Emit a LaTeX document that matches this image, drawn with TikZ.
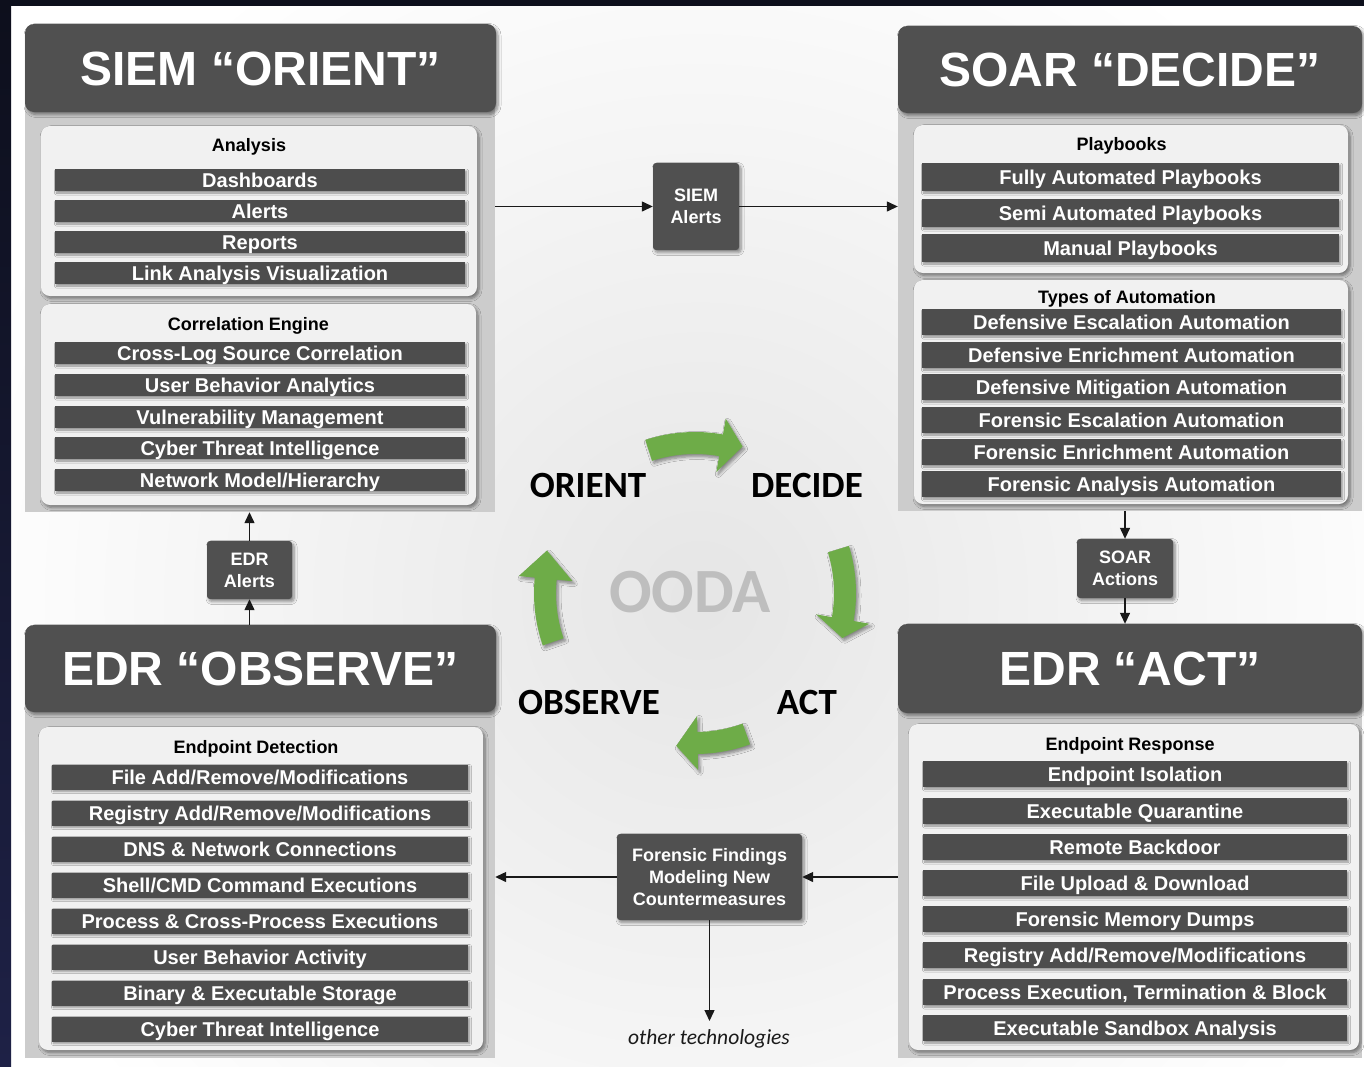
\documentclass[tikz,border=0pt]{standalone}
\usepackage{fontspec}
\setmainfont{Liberation Sans}
\newfontfamily\oodafont{Carlito}
\usetikzlibrary{arrows.meta,shadows.blur,calc}

\definecolor{navytop}{RGB}{13,15,28}
\definecolor{navybot}{RGB}{30,33,70}
\definecolor{hdrgray}{RGB}{80,80,80}
\definecolor{bargray}{RGB}{77,77,77}
\definecolor{panelgray}{RGB}{204,204,204}
\definecolor{boxgray}{RGB}{241,241,241}
\definecolor{oodagreen}{RGB}{110,172,72}
\definecolor{oodagray}{RGB}{190,190,190}
\definecolor{linegray}{RGB}{25,25,25}

\tikzset{
  softshadow/.style={blur shadow={shadow xshift=2pt,shadow yshift=-2.5pt,
      shadow blur radius=3pt,shadow blur steps=6,shadow opacity=45}},
  barshadow/.style={blur shadow={shadow xshift=1.5pt,shadow yshift=-2pt,
      shadow blur radius=2pt,shadow blur steps=5,shadow opacity=40}},
  hdr/.style={fill=hdrgray, rounded corners=9pt, text=white, inner sep=0pt,
      font={\fontsize{48}{48}\selectfont\bfseries}, text height=34.4pt,
      text depth=0pt, softshadow},
  panel/.style={fill=panelgray, inner sep=0pt},
  grp/.style={fill=boxgray, rounded corners=9pt, inner sep=0pt, softshadow},
  grptitle/.style={font={\fontsize{18}{18}\selectfont\bfseries}, text=black,
      inner sep=0pt, text height=12.9pt, text depth=0pt},
  bar/.style={fill=bargray, text=white, inner sep=0pt,
      font={\fontsize{20}{20}\selectfont\bfseries}, text height=14.3pt,
      text depth=0pt, barshadow},
  tag/.style={fill=hdrgray, rounded corners=3pt, text=white, align=center,
      inner sep=0pt, font={\fontsize{18}{22}\selectfont\bfseries}, softshadow},
  flow/.style={draw=linegray, line width=1.3pt,
      -{Triangle[length=11pt,width=10pt]}},
  ooda/.style={font={\fontsize{37}{37}\selectfont\oodafont\bfseries},
      inner sep=0pt, text height=23.8pt, text depth=0pt},
}

% curved block arrow of the OODA loop: tail angle, head-base angle, tip angle
\newcommand\oodaarrow[3]{%
  \fill[oodagreen, softshadow]
    plot[domain=#1:#2, samples=24] ({-\x}:161) -- ({-#2}:177) -- ({-#3}:154)
    -- ({-#2}:123) -- plot[domain=#2:#1, samples=24] ({-\x}:139) -- cycle;
}

\begin{document}
\begin{tikzpicture}[x=1pt,y=-1pt]
\useasboundingbox (0,0) rectangle (1364,1066);
\clip (0,0) rectangle (1364,1066);

% background with soft central glow and dark frame edges
\fill[white] (0,0) rectangle (1364,1066);
\shade[inner color=black!10, outer color=white] (700,600) circle (760);
\shade[top color=navytop, bottom color=navybot] (0,0) rectangle (11,1066);
\fill[navytop] (0,0) rectangle (1364,6);

% ---------- SIEM "ORIENT" ----------
\node[panel, minimum width=470pt, minimum height=444pt] (siemP) at (260,290) {};
\node[hdr, minimum width=471pt, minimum height=88pt] (siemH) at (260.5,68) {SIEM “ORIENT”};
\node[grp, minimum width=436pt, minimum height=170pt] (ana) at (259,211) {};
\node[grptitle] (anaT) at (249,145) {Analysis};
\foreach \yy/\lbl [count=\i] in {180/{Dashboards},211/{Alerts},242/{Reports},
    273/{Link Analysis Visualization}}
  \node[bar, minimum width=410pt, minimum height=22pt] (anaB\i) at (260,\yy) {\lbl};
\node[grp, minimum width=435pt, minimum height=201pt] (cor) at (258.5,404.5) {};
\node[grptitle] (corT) at (248.5,324) {Correlation Engine};
\foreach \yy/\lbl [count=\i] in {353/{Cross-Log Source Correlation},
    385/{User Behavior Analytics},417/{Vulnerability Management},
    448/{Cyber Threat Intelligence},480/{Network Model/Hierarchy}}
  \node[bar, minimum width=410pt, minimum height=22pt] (corB\i) at (260,\yy) {\lbl};

% ---------- SOAR "DECIDE" ----------
\node[panel, minimum width=464pt, minimum height=442pt] (soarP) at (1130,290) {};
\node[hdr, minimum width=464pt, minimum height=87pt] (soarH) at (1130,69.5) {SOAR “DECIDE”};
\node[grp, minimum width=434pt, minimum height=148pt] (pb) at (1131,199) {};
\node[grptitle] (pbT) at (1121.5,144) {Playbooks};
\foreach \yy/\lbl [count=\i] in {177/{Fully Automated Playbooks},
    213/{Semi Automated Playbooks},248/{Manual Playbooks}}
  \node[bar, minimum width=417pt, minimum height=28pt] (pbB\i) at (1130.5,\yy) {\lbl};
\node[grp, minimum width=434pt, minimum height=224pt] (ty) at (1131,392) {};
\node[grptitle] (tyT) at (1127,297) {Types of Automation};
\foreach \yy/\lbl [count=\i] in {322/{Defensive Escalation Automation},
    355/{Defensive Enrichment Automation},387/{Defensive Mitigation Automation},
    420/{Forensic Escalation Automation},452/{Forensic Enrichment Automation},
    484/{Forensic Analysis Automation}}
  \node[bar, minimum width=419pt, minimum height=26pt] (tyB\i) at (1131.5,\yy) {\lbl};

% ---------- EDR "OBSERVE" ----------
\node[panel, minimum width=470pt, minimum height=390pt] (obsP) at (260,863) {};
\node[hdr, minimum width=471pt, minimum height=87pt] (obsH) at (260.5,668.5) {EDR “OBSERVE”};
\node[grp, minimum width=444pt, minimum height=323pt] (ed) at (261,888.5) {};
\node[grptitle] (edT) at (256,747) {Endpoint Detection};
\foreach \yy/\lbl [count=\i] in {777/{File Add/Remove/Modifications},
    813/{Registry Add/Remove/Modifications},849/{DNS \& Network Connections},
    885/{Shell/CMD Command Executions},921/{Process \& Cross-Process Executions},
    957/{User Behavior Activity},993/{Binary \& Executable Storage},
    1029/{Cyber Threat Intelligence}}
  \node[bar, minimum width=416pt, minimum height=25pt] (edB\i) at (260,\yy) {\lbl};

% ---------- EDR "ACT" ----------
\node[panel, minimum width=464pt, minimum height=390pt] (actP) at (1130,863) {};
\node[hdr, minimum width=464pt, minimum height=89pt] (actH) at (1130,668.5) {EDR “ACT”};
\node[grp, minimum width=450pt, minimum height=326pt] (er) at (1134,887) {};
\node[grptitle] (erT) at (1130,744) {Endpoint Response};
\foreach \yy/\lbl [count=\i] in {774/{Endpoint Isolation},811/{Executable Quarantine},
    847/{Remote Backdoor},883/{File Upload \& Download},919/{Forensic Memory Dumps},
    955/{Registry Add/Remove/Modifications},
    992/{Process Execution, Termination \& Block},1028/{Executable Sandbox Analysis}}
  \node[bar, minimum width=424pt, minimum height=26pt] (erB\i) at (1135,\yy) {\lbl};

% ---------- hand-off boxes ----------
\node[tag, minimum width=86pt, minimum height=87pt] (sa) at (696,206.5) {SIEM\\Alerts};
\node[tag, minimum width=85pt, minimum height=58pt] (ea) at (249.5,570) {EDR\\Alerts};
\node[tag, minimum width=96pt, minimum height=59pt] (sact) at (1125,568.5) {SOAR\\Actions};
\node[tag, minimum width=185pt, minimum height=86pt] (ff) at (709.5,877)
  {Forensic Findings\\Modeling New\\Countermeasures};
\coordinate (otherEnd) at (709.5,1021);
\node[inner sep=0pt, text=linegray, text height=14pt, text depth=0pt,
  font={\fontsize{21.5}{21.5}\selectfont\oodafont\itshape}] (other)
  at (709,1037) {other technologies};

% ---------- connectors ----------
\draw[flow] (siemP.east |- sa.west) -- (sa.west);
\draw[flow] (sa.east) -- (sa.east -| soarP.west);
\draw[flow] (ea.south |- obsH.north) -- (ea.south);
\draw[flow] (ea.north) -- (ea.north |- siemP.south);
\draw[flow] (sact.north |- soarP.south) -- (sact.north);
\draw[flow] (sact.south) -- (sact.south |- actH.north);
\draw[flow] (ff.east -| actP.west) -- (ff.east);
\draw[flow] (ff.west) -- (ff.west -| obsP.east);
\draw[flow] (ff.south) -- (otherEnd);

% ---------- OODA loop ----------
\begin{scope}[shift={(695,593)}]
  \oodaarrow{108}{80}{72}
  \oodaarrow{17}{-10}{-17}
  \oodaarrow{-70}{-89}{-97}
  \oodaarrow{199}{174.5}{164}
\end{scope}
\node[ooda] (oOrient) at (588,486) {ORIENT};
\node[ooda] (oDecide) at (807,486) {DECIDE};
\node[ooda] (oObserve) at (589,703) {OBSERVE};
\node[ooda] (oAct) at (807,703) {ACT};
\node[ooda, text=oodagray, text height=40.6pt,
  font={\fontsize{63}{63}\selectfont\oodafont\bfseries}] (oOoda) at (690,592) {OODA};
\end{tikzpicture}
\end{document}
